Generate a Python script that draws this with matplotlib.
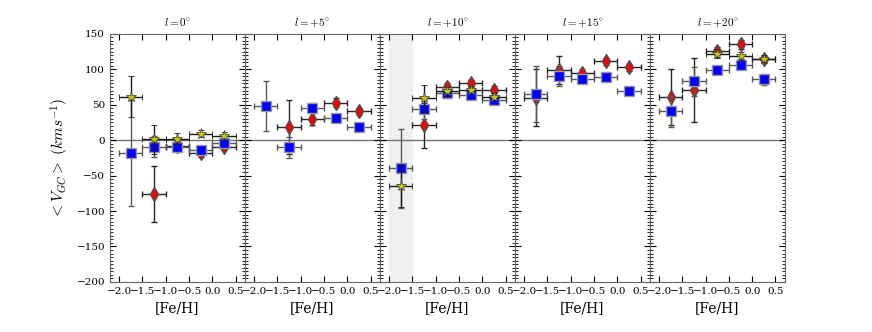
import matplotlib
matplotlib.use('Agg')
import matplotlib.pyplot as plt
from matplotlib.ticker import MultipleLocator
import numpy as np

plt.rcParams['font.family'] = 'serif'
plt.rcParams['mathtext.fontset'] = 'cm'

# bins in [Fe/H]
feh = [-1.75, -1.25, -0.75, -0.25, 0.25]
feh_err = 0.25
nan = np.nan

titles = [r'$l=0^{\circ}$', r'$l=+5^{\circ}$', r'$l=+10^{\circ}$', r'$l=+15^{\circ}$', r'$l=+20^{\circ}$']

# blue squares
sq_v = [[-18, -9, -9, -14, -4],
        [48, -10, 46, 31, 18],
        [-40, 44, 66, 64, 56],
        [65, 90, 87, 89, 70],
        [41, 83, 99, 106, 86]]
sq_e = [[75, 15, 8, 6, 6],
        [35, 15, 6, 4, 4],
        [56, 14, 6, 5, 5],
        [40, 14, 6, 5, 4],
        [22, 20, 5, 5, 8]]

# red diamonds
di_v = [[nan, -76, -8, -18, -9],
        [nan, 19, 30, 53, 41],
        [nan, 21, 75, 80, 71],
        [60, 99, 95, 111, 103],
        [61, 71, 126, 135, 114]]
di_e = [[nan, 40, 6, 6, 5],
        [nan, 38, 8, 6, 5],
        [nan, 32, 6, 5, 5],
        [40, 20, 6, 5, 5],
        [40, 45, 6, 6, 5]]

# yellow stars
st_v = [[61, 1, 2, 9, 6],
        [nan, nan, nan, nan, nan],
        [-65, 59, 69, 71, 61],
        [nan, nan, nan, nan, nan],
        [nan, nan, 122, 119, 115]]
st_e = [[29, 20, 8, 5, 5],
        [nan, nan, nan, nan, nan],
        [30, 19, 6, 5, 5],
        [nan, nan, nan, nan, nan],
        [nan, nan, 6, 6, 5]]

fig, axes = plt.subplots(1, 5, figsize=(8.72, 3.32), dpi=100, sharey=True)
fig.subplots_adjust(left=0.126, right=0.9, top=0.898, bottom=0.151, wspace=0)

for i, ax in enumerate(axes):
    if i == 2:
        ax.axvspan(-2.0, -1.5, color='0.94', zorder=0)
    ax.axhline(0, color='0.45', lw=1, zorder=1)
    ax.errorbar(feh, sq_v[i], xerr=feh_err, yerr=sq_e[i], fmt='s', color='b',
                mec='0.6', ms=6.5, ecolor='0.35', elinewidth=1, capsize=2, zorder=3)
    ax.errorbar(feh, di_v[i], xerr=feh_err, yerr=di_e[i], fmt='d', color='r',
                mec='0.3', ms=7.5, ecolor='0.15', elinewidth=1, capsize=2, zorder=2)
    ax.errorbar(feh, st_v[i], xerr=feh_err, yerr=st_e[i], fmt='*', color='#c8c800',
                mec='0.3', mew=0.6, ms=8, ecolor='0.1', elinewidth=1, capsize=2, zorder=4)
    ax.set_xlim(-2.2, 0.7)
    ax.set_ylim(-200, 150)
    ax.set_xticks([-2.0, -1.5, -1.0, -0.5, 0.0, 0.5])
    ax.yaxis.set_major_locator(MultipleLocator(50))
    ax.yaxis.set_minor_locator(MultipleLocator(5))
    ax.tick_params(direction='in', top=True, right=True, labelsize=7.5, length=4)
    ax.tick_params(which='minor', direction='in', right=True, length=2)
    for s in ax.spines.values():
        s.set_color('0.4')
    ax.set_title(titles[i], fontsize=8, pad=6)
    ax.set_xlabel('[Fe/H]', fontsize=10)

axes[0].set_ylabel(r'$<V_{GC}>\ (kms^{-1})$', fontsize=11)

fig.savefig('out.png')
